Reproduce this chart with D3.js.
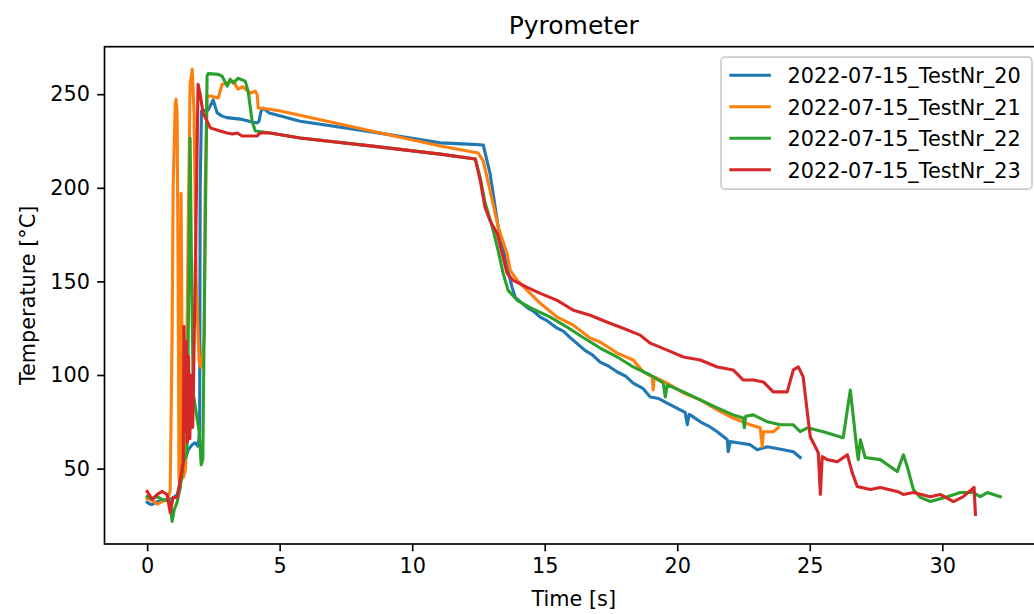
<!DOCTYPE html>
<html>
<head>
<meta charset="utf-8">
<script src="https://cdn.jsdelivr.net/npm/d3@7"></script>
<style>
    body { margin: 0; background: #fff; }
    text { font-family: "DejaVu Sans", sans-serif; }
</style>
</head>
<body>
<div id="chart"></div>
<script>
// time [s], temperature [°C]
const test20 = [
    [0, 32], [0.11, 31], [0.19, 30.9], [0.38, 32.4], [0.6, 33], [0.8, 33.5], [0.95, 34], [1.13, 36],
    [1.25, 42], [1.36, 50], [1.5, 58], [1.55, 60], [1.7, 62.8], [1.81, 63.8], [1.92, 62], [1.98, 70],
    [2.0, 200], [2.05, 241], [2.3, 241.5], [2.49, 247], [2.64, 240], [2.83, 238.3], [3.0, 237.5],
    [3.51, 236.7], [4.0, 235], [4.15, 234.6], [4.22, 235.6], [4.3, 241], [4.38, 242.6], [4.6, 240],
    [5.0, 238.5], [5.77, 235.6], [8.42, 230], [11.06, 224], [12.3, 223.2], [12.68, 222.9],
    [12.94, 207.4], [13.25, 178.7], [13.58, 157.4], [13.77, 146.8], [13.89, 141.5], [14.34, 136],
    [14.6, 133.8], [14.83, 130.9], [15.1, 128.9], [15.47, 125], [15.7, 123.4], [15.96, 120],
    [16.53, 113], [16.8, 110.8], [17.09, 106.9], [17.4, 104.8], [17.74, 101.6], [18.05, 99.4],
    [18.34, 95.7], [18.7, 92.9], [18.98, 88.3], [19.3, 87.4], [19.62, 85], [20.11, 81.4], [20.3, 80],
    [20.38, 73.4], [20.45, 79], [20.49, 78.7], [20.87, 75], [21.2, 72.6], [21.51, 69.7], [21.89, 65.4],
    [21.92, 59], [22.0, 64.4], [22.4, 63.5], [22.75, 62.8], [23.02, 60.1], [23.4, 61.7], [24.0, 60.1],
    [24.38, 59], [24.64, 55.9]
];
const test21 = [
    [0, 34], [0.2, 33], [0.38, 31], [0.57, 32.4], [0.79, 33.5], [0.87, 38.8], [0.94, 120], [0.98, 200],
    [1.06, 245], [1.09, 247.3], [1.13, 240], [1.17, 150], [1.2, 45], [1.25, 40], [1.28, 197], [1.32, 100],
    [1.36, 45], [1.45, 50], [1.55, 180], [1.62, 255], [1.7, 263.3], [1.77, 240], [1.85, 150],
    [1.96, 107], [2.04, 104], [2.15, 120], [2.19, 200], [2.26, 249], [2.4, 249], [2.68, 248],
    [2.83, 255.3], [3.02, 255.9], [3.25, 257], [3.43, 252.7], [3.6, 254], [3.89, 250.5], [4.08, 251.6],
    [4.15, 250], [4.19, 242.6], [4.64, 242], [5.02, 241], [5.77, 238.8], [8.42, 230.5], [11.06, 222.3],
    [12.49, 218.6], [12.68, 214.4], [12.94, 198.4], [13.25, 178.7], [13.58, 164.9], [13.7, 155.9],
    [13.96, 150.5], [14.34, 145.2], [14.83, 138.3], [15.47, 130.9], [16.08, 126.6], [16.72, 119.7],
    [17.09, 117.6], [17.74, 111.7], [18.34, 108], [18.72, 101.6], [19.06, 99], [19.09, 92], [19.13, 99],
    [19.62, 95.7], [20.23, 90.4], [20.87, 86.7], [21.51, 81.4], [22.11, 77], [22.75, 73.4], [23.13, 71.8],
    [23.21, 61.7], [23.25, 69.7], [23.62, 69.7], [23.81, 71.8]
];
const test22 = [
    [0, 35], [0.19, 34], [0.38, 35], [0.57, 33.5], [0.75, 33], [0.87, 32], [0.94, 21.8], [1.02, 28],
    [1.13, 32], [1.25, 40], [1.36, 53.2], [1.5, 58], [1.55, 120], [1.62, 226.6], [1.68, 150], [1.74, 90],
    [1.85, 80], [1.96, 70], [2.04, 52], [2.1, 55], [2.17, 150], [2.26, 259.6], [2.3, 261], [2.68, 260.6],
    [2.83, 259.6], [3.02, 254.3], [3.13, 258], [3.25, 256], [3.43, 258.5], [3.7, 257], [3.81, 251.6],
    [3.96, 235.6], [4.08, 230.3], [4.64, 229.3], [5.77, 226.6], [8.42, 222.4], [11.06, 218],
    [12.38, 215.4], [12.57, 205], [12.75, 192], [12.94, 183], [13.06, 177], [13.25, 166], [13.43, 154.3],
    [13.62, 145.2], [13.96, 139.9], [14.45, 136], [15.21, 130.9], [15.85, 125.5], [16.45, 120],
    [17.09, 114.4], [17.74, 109.6], [18.34, 104.3], [18.98, 100], [19.47, 95.7], [19.55, 88.3],
    [19.62, 94.7], [20.23, 91], [20.87, 86.7], [21.51, 82.4], [22.11, 78.7], [22.49, 77], [22.53, 71.8],
    [22.58, 78], [22.87, 78.7], [23.4, 75], [23.89, 73.4], [24.38, 73.4], [24.64, 69.7], [24.91, 71.8],
    [25.51, 69.7], [26.26, 66.5], [26.53, 92], [26.79, 58.5], [26.83, 54.8], [26.91, 65.4], [27.09, 55.9],
    [27.66, 54.8], [28.3, 48.4], [28.53, 57.4], [28.68, 51], [28.91, 38.8], [29.17, 34.6], [29.55, 32.4],
    [30.19, 35], [30.68, 37.2], [31.17, 37.2], [31.43, 35], [31.7, 37.2], [32.19, 35]
];
const test23 = [
    [0, 37.8], [0.19, 33.5], [0.38, 36.2], [0.57, 37.8], [0.75, 36.2], [0.87, 26.6], [0.98, 34.6],
    [1.13, 34.6], [1.25, 44.1], [1.36, 53.2], [1.39, 126], [1.43, 70], [1.47, 118], [1.51, 64],
    [1.56, 110], [1.61, 66], [1.66, 100], [1.72, 72], [1.81, 150], [1.92, 255.3], [2.0, 250], [2.11, 240],
    [2.26, 235.6], [2.38, 232], [2.75, 230.3], [3.02, 229.3], [3.21, 228.7], [3.4, 229.3], [3.58, 227.7],
    [4.15, 227.7], [4.26, 229.3], [4.64, 229.3], [5.77, 226.6], [8.42, 222.4], [11.06, 218],
    [12.38, 215.4], [12.57, 203.7], [12.75, 189.4], [12.94, 182.4], [13.21, 175.5], [13.43, 162.8],
    [13.58, 154.3], [13.81, 150.5], [14.34, 146.8], [14.83, 143.6], [15.47, 139.9], [16.08, 134.6],
    [16.72, 131.9], [17.36, 128.2], [17.96, 125], [18.6, 121.3], [18.98, 117], [19.62, 113.3],
    [20.23, 109.6], [20.87, 108], [21.51, 104.3], [22.11, 102.7], [22.49, 97.3], [22.87, 97.3],
    [23.25, 96.3], [23.62, 91], [24.0, 91], [24.15, 91], [24.38, 102.7], [24.57, 104.3], [24.75, 99],
    [24.91, 79.8], [25.02, 67], [25.32, 58.5], [25.4, 36.2], [25.47, 56.4], [25.66, 54.8], [26.04, 53.7],
    [26.42, 57.4], [26.6, 47.9], [26.79, 40.4], [27.28, 38.8], [27.66, 39.9], [28.3, 37.8], [28.53, 36.2],
    [28.91, 37.2], [29.55, 35], [29.92, 36.2], [30.42, 32.4], [30.79, 35], [31.2, 39.9], [31.25, 25.5]
];

const seriesNames = ['2022-07-15_TestNr_20', '2022-07-15_TestNr_21', '2022-07-15_TestNr_22', '2022-07-15_TestNr_23'];
const colors = ['#1f77b4', '#ff7f0e', '#2ca02c', '#d62728'];
const xTicks = [0, 5, 10, 15, 20, 25, 30];
const yTicks = [50, 100, 150, 200, 250];

const width = 1034, height = 614;
const plot = { left: 104.5, right: 1043, top: 46.7, bottom: 544 };
const fs = 20.8;

const series = [test20, test21, test22, test23];
const all = [].concat(...series);

// matplotlib-style 5% margins
let xExt = d3.extent(all, d => d[0]);
let yExt = d3.extent(all, d => d[1]);
let xPad = (xExt[1] - xExt[0]) * 0.05;
let yPad = (yExt[1] - yExt[0]) * 0.05;

const x = d3.scaleLinear().domain([xExt[0] - xPad, xExt[1] + xPad]).range([plot.left, plot.right]);
const y = d3.scaleLinear().domain([yExt[0] - yPad, yExt[1] + yPad]).range([plot.bottom, plot.top]);

const svg = d3.select('#chart').append('svg')
    .attr('width', width)
    .attr('height', height)
    .style('background', '#fff');

// lines
const line = d3.line().x(d => x(d[0])).y(d => y(d[1]));
series.forEach((s, i) => {
    svg.append('path')
        .datum(s)
        .attr('d', line)
        .attr('fill', 'none')
        .attr('stroke', colors[i])
        .attr('stroke-width', 3.1)
        .attr('stroke-linejoin', 'round')
        .attr('stroke-linecap', 'square')
});

// axes
const xAxis = svg.append('g')
    .attr('transform', 'translate(0,' + plot.bottom + ')')
    .call(d3.axisBottom(x).tickValues(xTicks).tickSize(7.3).tickPadding(7.3).tickSizeOuter(0))
const yAxis = svg.append('g')
    .attr('transform', 'translate(' + plot.left + ',0)')
    .call(d3.axisLeft(y).tickValues(yTicks).tickSize(7.3).tickPadding(7.3).tickSizeOuter(0))

;[xAxis, yAxis].forEach(g => {
    g.select('.domain').remove()
    g.selectAll('.tick line').attr('stroke', '#000').attr('stroke-width', 1.67)
    g.selectAll('.tick text')
        .attr('fill', '#000')
        .style('font-size', fs + 'px')
        .style('font-family', 'DejaVu Sans')
})

// frame
svg.append('rect')
    .attr('x', plot.left)
    .attr('y', plot.top)
    .attr('width', plot.right - plot.left)
    .attr('height', plot.bottom - plot.top)
    .attr('fill', 'none')
    .attr('stroke', '#000')
    .attr('stroke-width', 1.67)

const cx = (plot.left + plot.right) / 2;

svg.append('text')
    .attr('x', cx)
    .attr('y', 34)
    .attr('text-anchor', 'middle')
    .style('font-size', '25px')
    .text('Pyrometer')

svg.append('text')
    .attr('x', cx)
    .attr('y', 606)
    .attr('text-anchor', 'middle')
    .style('font-size', fs + 'px')
    .text('Time [s]')

svg.append('text')
    .attr('transform', 'translate(35,' + (plot.top + plot.bottom) / 2 + ') rotate(-90)')
    .attr('text-anchor', 'middle')
    .style('font-size', fs + 'px')
    .text('Temperature [°C]')

// legend
const legend = svg.append('g').attr('transform', 'translate(721,57.1)')
legend.append('rect')
    .attr('width', 311)
    .attr('height', 132)
    .attr('rx', 4.2)
    .attr('fill', '#fff')
    .attr('fill-opacity', 0.8)
    .attr('stroke', '#cccccc')
    .attr('stroke-width', 1.67)

seriesNames.forEach((name, i) => {
    let ry = 18.2 + i * 31.5
    legend.append('line')
        .attr('x1', 8.3).attr('x2', 49.9)
        .attr('y1', ry).attr('y2', ry)
        .attr('stroke', colors[i])
        .attr('stroke-width', 3.1)
    legend.append('text')
        .attr('x', 66.5)
        .attr('y', ry + 7.8)
        .style('font-size', fs + 'px')
        .text(name)
})
</script>
</body>
</html>
